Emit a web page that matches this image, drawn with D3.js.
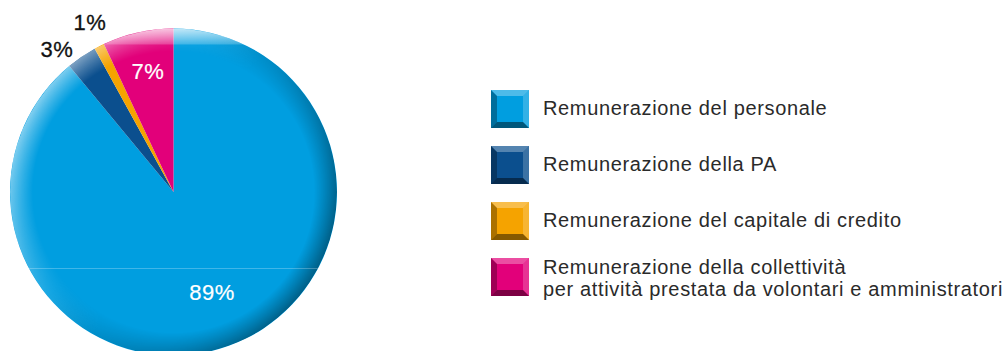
<!DOCTYPE html>
<html>
<head>
<meta charset="utf-8">
<script src="https://cdn.jsdelivr.net/npm/d3@7"></script>
<style>
  body { margin: 0; background: #fff; }
  svg { display: block; font-family: "Liberation Sans", Arial, sans-serif; }
</style>
</head>
<body>
<div id="chart"></div>
<script>
// data
var categories = [
  "Remunerazione del personale",
  "Remunerazione della PA",
  "Remunerazione del capitale di credito",
  "Remunerazione della collettività\nper attività prestata da volontari e amministratori"
];
var values = [89, 3, 1, 7];
var pctLabels = ["89%", "3%", "1%", "7%"];
var colors = ["#009ee0", "#0b4f8e", "#f5a300", "#e2007a"];

var width = 1007, height = 351;
var cx = 173.5, cy = 192, radius = 163.5;

var svg = d3.select("#chart").append("svg")
  .attr("width", width)
  .attr("height", height);

var defs = svg.append("defs");

// edge shading for the pie
var edgeGrad = defs.append("radialGradient").attr("id", "edgeMaskGrad");
edgeGrad.append("stop").attr("offset", "0.86").attr("stop-color", "#000");
edgeGrad.append("stop").attr("offset", "1").attr("stop-color", "#fff");

var mask = defs.append("mask").attr("id", "edgeMask");
mask.append("circle").attr("cx", cx).attr("cy", cy).attr("r", radius)
  .attr("fill", "url(#edgeMaskGrad)");

var sideGrad = defs.append("linearGradient").attr("id", "sideGrad")
  .attr("x1", "0").attr("y1", "0").attr("x2", "1").attr("y2", "0.6");
sideGrad.append("stop").attr("offset", "0").attr("stop-color", "#fff").attr("stop-opacity", 0.75);
sideGrad.append("stop").attr("offset", "0.45").attr("stop-color", "#fff").attr("stop-opacity", 0.1);
sideGrad.append("stop").attr("offset", "0.6").attr("stop-color", "#000").attr("stop-opacity", 0.1);
sideGrad.append("stop").attr("offset", "1").attr("stop-color", "#000").attr("stop-opacity", 0.4);

var topGrad = defs.append("linearGradient").attr("id", "topGrad")
  .attr("x1", "0").attr("y1", "0").attr("x2", "0").attr("y2", "1");
topGrad.append("stop").attr("offset", "0").attr("stop-color", "#fff").attr("stop-opacity", 0.7);
topGrad.append("stop").attr("offset", "1").attr("stop-color", "#fff").attr("stop-opacity", 0.2);

defs.append("clipPath").attr("id", "pieClip")
  .append("circle").attr("cx", cx).attr("cy", cy).attr("r", radius);

var pie = d3.pie().sort(null).value(d => d);
var arc = d3.arc().innerRadius(0).outerRadius(radius);
var arcs = pie(values);

var pieG = svg.append("g").attr("transform", `translate(${cx},${cy})`);

pieG.selectAll("path.slice")
  .data(arcs)
  .enter()
  .append("path")
  .attr("class", "slice")
  .attr("d", arc)
  .attr("fill", (d, i) => colors[i]);

// 3d look
var shade = svg.append("g").attr("clip-path", "url(#pieClip)");
shade.append("rect")
  .attr("x", cx - radius).attr("y", cy - radius)
  .attr("width", radius * 2).attr("height", radius * 2)
  .attr("fill", "url(#sideGrad)")
  .attr("mask", "url(#edgeMask)");
shade.append("rect")
  .attr("x", cx - radius).attr("y", cy - radius)
  .attr("width", radius * 2).attr("height", 16)
  .attr("fill", "url(#topGrad)");
shade.append("line")
  .attr("x1", cx - radius).attr("x2", cx + radius)
  .attr("y1", 268.5).attr("y2", 268.5)
  .attr("stroke", "#fff").attr("stroke-opacity", 0.25);

// percentage labels
var labelPos = [
  { x: 212, y: 300, fill: "#fff", sw: 0.2 },
  { x: 57, y: 57, fill: "#111", sw: 0.3 },
  { x: 90, y: 30, fill: "#111", sw: 0.3 },
  { x: 148, y: 79, fill: "#fff", sw: 0.2 }
];
svg.selectAll("text.pct")
  .data(pctLabels)
  .enter()
  .append("text")
  .attr("class", "pct")
  .attr("x", (d, i) => labelPos[i].x)
  .attr("y", (d, i) => labelPos[i].y)
  .attr("text-anchor", "middle")
  .attr("fill", (d, i) => labelPos[i].fill)
  .attr("stroke", (d, i) => labelPos[i].fill)
  .attr("stroke-width", (d, i) => labelPos[i].sw)
  .style("font-size", "22px")
  .style("letter-spacing", "0.5px")
  .text(d => d);

// legend
var legendY = d3.scalePoint()
  .domain(categories)
  .range([90, 258]);

var sw = 38, bev = 6;
var legend = svg.append("g").attr("transform", "translate(491,0)");

var item = legend.selectAll("g.item")
  .data(categories)
  .enter()
  .append("g")
  .attr("class", "item")
  .attr("transform", d => `translate(0,${legendY(d)})`);

item.append("rect")
  .attr("width", sw).attr("height", sw)
  .attr("fill", (d, i) => colors[i]);

// bevels
var bevels = [
  { pts: [[0, 0], [sw, 0], [sw - bev, bev], [bev, bev]], fill: "#fff", op: 0.3 },
  { pts: [[sw, 0], [sw, sw], [sw - bev, sw - bev], [sw - bev, bev]], fill: "#fff", op: 0.2 },
  { pts: [[0, sw], [sw, sw], [sw - bev, sw - bev], [bev, sw - bev]], fill: "#000", op: 0.45 },
  { pts: [[0, 0], [bev, bev], [bev, sw - bev], [0, sw]], fill: "#000", op: 0.3 }
];
bevels.forEach(function (b) {
  item.append("polygon")
    .attr("points", b.pts.map(p => p.join(",")).join(" "))
    .attr("fill", b.fill)
    .attr("fill-opacity", b.op);
});

item.each(function (d) {
  var lines = d.split("\n");
  var t = d3.select(this).append("text")
    .attr("x", 52)
    .attr("fill", "#2a2a2a")
    .style("font-size", "20px")
    .style("letter-spacing", "0.65px");
  var y0 = lines.length === 1 ? 25 : 16;
  lines.forEach(function (l, j) {
    t.append("tspan").attr("x", 52).attr("y", y0 + j * 22).text(l);
  });
});
</script>
</body>
</html>
